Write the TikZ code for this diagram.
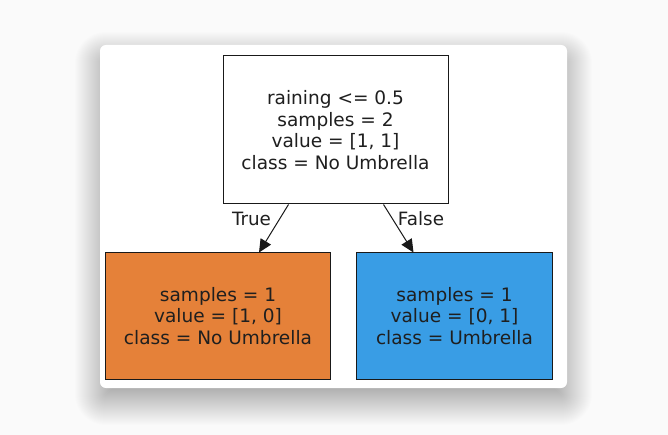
\documentclass[tikz,border=0pt]{standalone}
\usepackage{fontspec}
\setmainfont{DejaVu Sans}
\usetikzlibrary{arrows.meta}
\definecolor{bgc}{HTML}{FAFAFA}
\definecolor{orangec}{HTML}{E58139}
\definecolor{bluec}{HTML}{399DE5}
\tikzset{
  treebox/.style={draw=black!90, line width=1bp, rectangle, inner sep=0pt, align=center,
    font=\fontsize{18.6}{21.6}\selectfont, text=black!88},
  edgearrow/.style={draw=black!90, line width=1bp, -{Triangle[length=13bp,width=12bp]}},
  edgelabel/.style={font=\fontsize{18.4}{21}\selectfont, text=black!88, inner sep=0pt}
}
\begin{document}
\begin{tikzpicture}[x=1bp,y=-1bp]
\useasboundingbox (0,0) rectangle (668,435);
\fill[bgc] (0,0) rectangle (668,435);
% shadow
\foreach \e in {-15,...,25}{
  \pgfmathsetmacro{\rr}{max(2,6+\e)}
  \fill[black, opacity=0.009, rounded corners=\rr]
    (100-\e, 45-\e+12) rectangle (567+\e, 388+\e+12);
}
\fill[white, rounded corners=6] (100,45) rectangle (567,388);
\node[treebox, fill=white, minimum width=225bp, minimum height=148bp] (root) at (335.5,130)
  {raining <= 0.5\\samples = 2\\value = [1, 1]\\class = No Umbrella};
\node[treebox, fill=orangec, minimum width=225bp, minimum height=126bp] (left) at (218,316)
  {samples = 1\\value = [1, 0]\\class = No Umbrella};
\node[treebox, fill=bluec, minimum width=196bp, minimum height=126bp] (right) at (454.5,316)
  {samples = 1\\value = [0, 1]\\class = Umbrella};
\draw[edgearrow] ([xshift=-47bp]root.south) -- ([xshift=41bp]left.north);
\draw[edgearrow] ([xshift=48bp]root.south) -- ([xshift=-41bp]right.north);
\node[edgelabel] (tlab) at (251.5,219) {True};
\node[edgelabel] (flab) at (421,219) {False};
\end{tikzpicture}
\end{document}
